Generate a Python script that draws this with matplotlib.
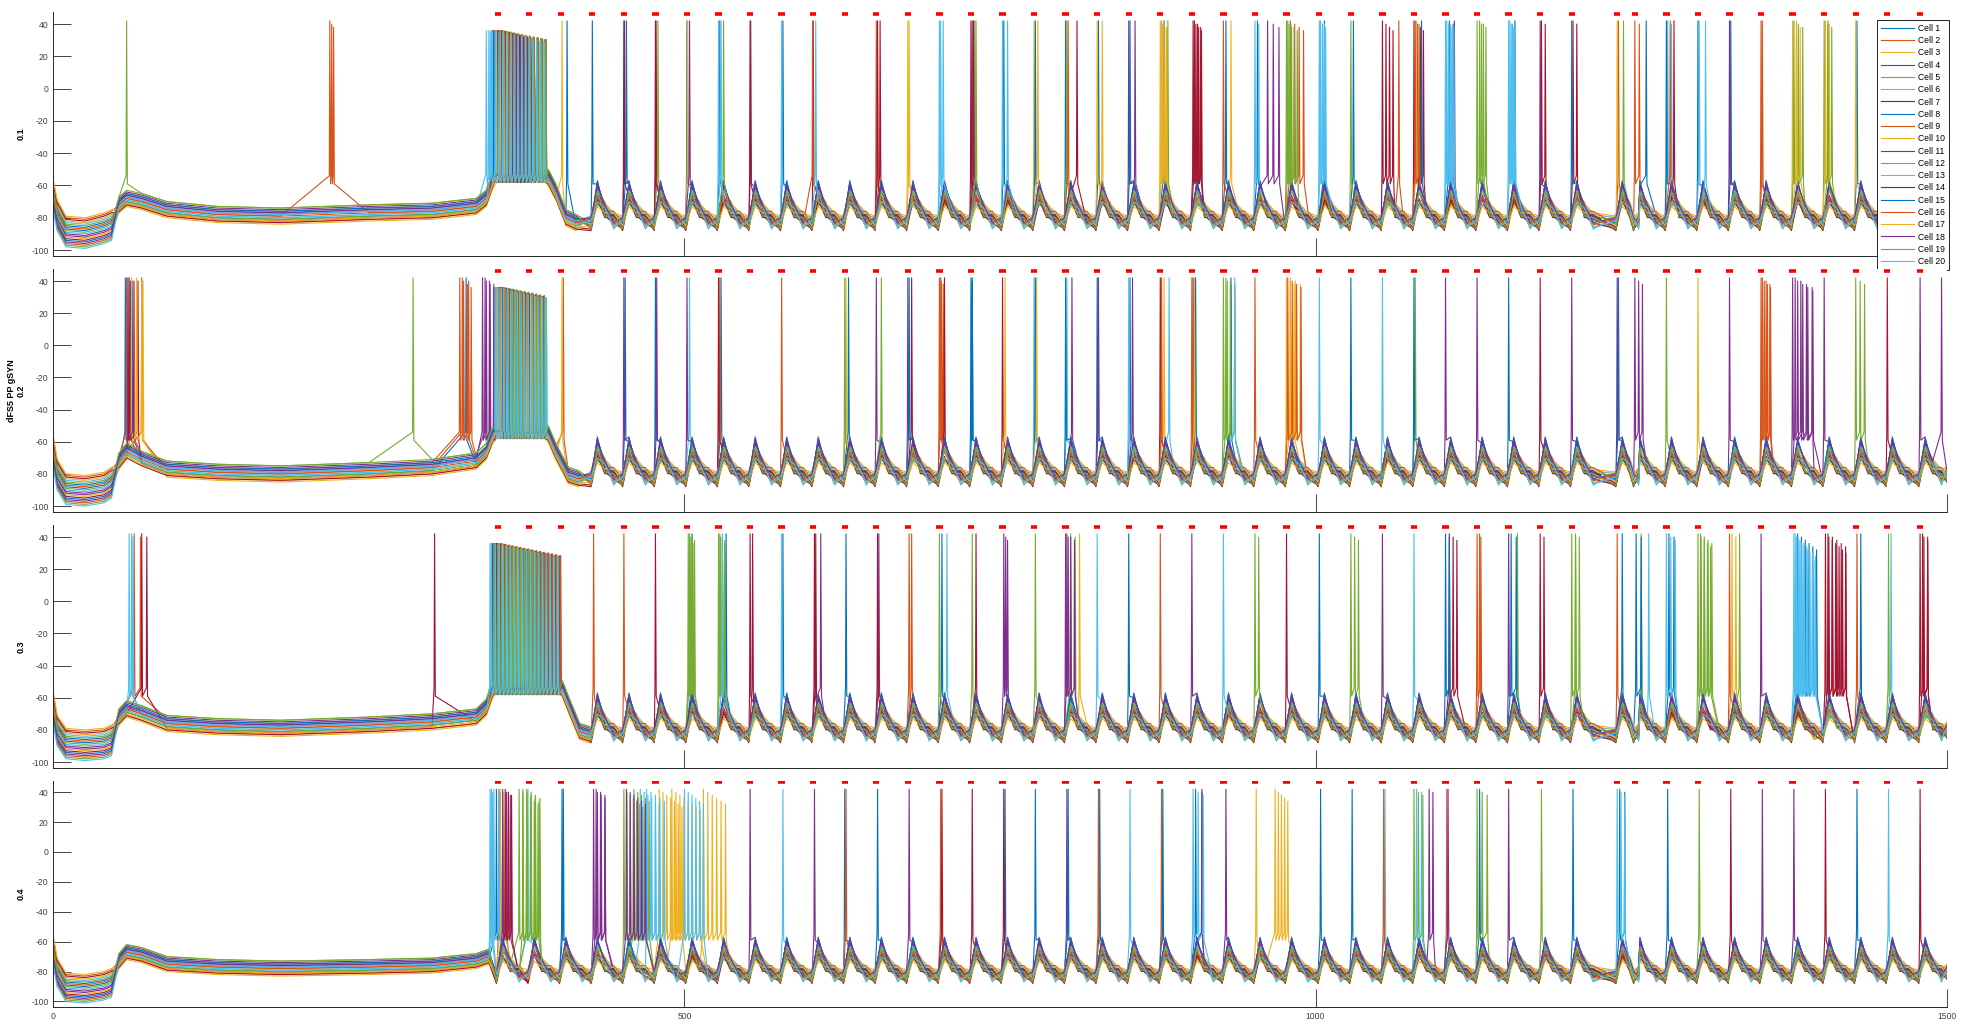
import numpy as np
import matplotlib.pyplot as plt

plt.rcParams.update({
    "font.family": ["Liberation Sans", "DejaVu Sans"], "font.size": 6,
    "axes.unicode_minus": False, "axes.linewidth": 0.7,
})
MATLAB = ["#0072BD", "#D95319", "#EDB120", "#7E2F8E", "#77AC30", "#4DBEEE", "#A2142F"]
CELLS = [f"Cell {i}" for i in range(1, 21)]
YLABELS = ["0.1", "dFS5 PP gSYN\n0.2", "0.3", "0.4"]
YTICKS = [-100, -80, -60, -40, -20, 0, 20, 40]
XTICKS = [0, 500, 1000, 1500]

# input pulse times (ms), red marks at the top of every panel
PULSES = [352, 377, 402, 427, 452, 477, 502, 527, 552, 577, 602, 627, 652, 677, 702,
          727, 752, 777, 802, 827, 852, 877, 902, 927, 952, 977, 1003, 1028, 1053, 1078,
          1103, 1128, 1153, 1178, 1203, 1239, 1253, 1278, 1303, 1328, 1353, 1378, 1403,
          1428, 1453, 1479]

# per-cell offsets (mV): first 50 ms, quiet period, rhythmic period
OFF_EARLY = [3, -8, 6, -2, -9, 5, -5, 1, 8, -4, -7, 4, -1, 7, -6, 2, 9, -3, 0, -10]
OFF_MID = [-2, 3, -4, 1, 5, -1, -3, 2, 0, -5, 4, -2, 1, -4, 3, 0, -3, 2, 5, -1]
OFF_LATE = [1, -3, 4, -2, 0, 3, -4, 2, -1, 5, -3, 1, 4, -5, 0, 2, -2, 3, -4, 1]
# peak of the per-cycle synaptic bump and late-cycle level (mV)
BUMP = [-60, -68, -64, -57, -71, -62, -66, -59, -70, -65, -61, -72, -63, -69, -58,
        -67, -73, -60, -64, -70]
LATE = [-79, -84, -77, -81, -86, -78, -83, -80, -76, -85, -79, -82, -87, -78, -81,
        -84, -77, -83, -80, -86]

# mean membrane potential before the rhythmic drive: (t, mV)
ENV_1 = [(0, -66), (3, -78), (10, -88), (25, -89), (40, -86), (46, -84), (52, -72), (58, -68),
         (70, -70), (90, -75), (130, -78), (180, -79), (250, -77), (300, -76), (335, -73),
         (343, -68), (348, -57), (392, -55), (398, -64), (406, -80), (414, -83)]
ENV_2 = [(0, -66), (3, -80), (10, -89), (25, -90), (40, -88), (46, -85), (52, -72), (58, -66),
         (70, -71), (90, -77), (130, -79), (180, -80), (250, -78), (300, -76), (335, -72),
         (343, -66), (348, -56), (392, -55), (398, -66), (408, -81), (416, -83)]
ENV_3 = [(0, -66), (3, -80), (10, -88), (25, -89), (40, -88), (46, -86), (52, -72), (58, -67),
         (70, -70), (90, -76), (130, -78), (180, -79), (250, -77), (300, -75), (335, -72),
         (343, -66), (348, -55), (403, -54), (409, -66), (417, -81), (425, -83)]
ENV_4 = [(0, -66), (3, -80), (10, -90), (25, -91), (40, -89), (46, -87), (52, -73), (58, -67),
         (70, -69), (90, -75), (130, -77), (180, -78), (250, -77), (300, -76), (335, -73),
         (345, -70)]
CYCLE_START = [415, 415, 425, 348]

# depolarisation-block plateau spiking: (cell, first spike, n spikes, isi)
PLATEAU_1 = [(1, 351, 14, 3.0), (2, 353, 13, 3.1), (3, 350, 14, 3.1), (4, 352, 14, 2.9),
             (5, 354, 13, 3.0), (6, 343, 16, 3.1), (7, 349, 14, 3.1), (8, 355, 12, 3.2),
             (9, 350, 15, 2.8), (10, 356, 12, 3.0), (11, 348, 15, 2.9), (12, 357, 12, 2.9),
             (13, 345, 16, 2.9), (14, 352, 14, 2.9), (15, 349, 14, 3.1), (16, 354, 12, 3.3),
             (17, 351, 14, 2.9), (18, 353, 14, 2.8), (19, 356, 12, 3.1), (20, 347, 15, 3.0)]
PLATEAU_2 = [(1, 352, 14, 2.9), (2, 354, 12, 3.1), (3, 351, 14, 3.0), (4, 353, 12, 3.2),
             (5, 355, 12, 3.1), (6, 350, 15, 2.9), (7, 351, 14, 3.0), (8, 356, 12, 3.0),
             (9, 350, 13, 3.2), (10, 357, 11, 3.2), (11, 353, 14, 2.8), (12, 358, 11, 3.1),
             (13, 350, 15, 2.9), (14, 352, 13, 3.1), (15, 354, 12, 3.2), (16, 355, 12, 3.0),
             (17, 352, 14, 2.9), (18, 356, 12, 2.9), (19, 357, 11, 3.2), (20, 351, 15, 2.8)]
PLATEAU_3 = [(1, 351, 17, 3.1), (2, 353, 16, 3.2), (3, 350, 17, 3.2), (4, 352, 17, 3.0),
             (5, 349, 18, 3.0), (6, 347, 18, 3.1), (7, 350, 17, 3.2), (8, 355, 16, 3.1),
             (9, 351, 17, 3.0), (10, 356, 16, 3.0), (11, 348, 18, 3.0), (12, 350, 18, 3.0),
             (13, 346, 19, 3.0), (14, 352, 17, 3.0), (15, 349, 17, 3.2), (16, 354, 16, 3.2),
             (17, 353, 17, 2.9), (18, 351, 17, 3.1), (19, 349, 18, 3.0), (20, 347, 18, 3.1)]
PLATEAU_4 = []

# spikes outside the plateau: (cell, first spike, n spikes, isi)
SPIKES_1 = [(5, 58, 1, 0), (9, 219, 3, 1.5),
            (10, 403, 1, 0), (1, 407, 1, 0), (8, 427, 1, 0), (7, 452, 1, 0), (4, 452.5, 1, 0),
            (15, 454, 1, 0), (14, 477, 1, 0), (7, 477.5, 1, 0), (12, 479, 1, 0), (1, 502, 1, 0),
            (3, 502.5, 1, 0), (18, 504, 1, 0), (13, 527, 1, 0), (8, 528, 1, 0), (20, 529, 1, 0),
            (19, 531, 1, 0), (14, 552, 1, 0), (11, 552.5, 1, 0), (6, 577, 1, 0), (1, 578, 1, 0),
            (16, 601.5, 1, 0), (7, 602, 1, 0), (20, 604, 1, 0), (2, 652, 1, 0), (14, 653, 1, 0),
            (7, 655, 1, 0), (10, 677, 1, 0), (17, 678, 1, 0), (6, 702, 1, 0), (13, 703, 1, 0),
            (20, 705, 1, 0), (14, 727, 1, 0), (11, 728, 1, 0), (7, 729, 1, 0), (5, 730, 1, 0),
            (19, 731, 1, 0), (13, 752, 1, 0), (1, 753, 1, 0), (20, 756, 1, 0), (3, 777, 1, 0),
            (15, 778, 1, 0), (17, 780, 1, 0), (8, 802, 1, 0), (12, 803, 1, 0), (16, 804, 1, 0),
            (7, 811, 1, 0), (10, 827, 1, 0), (1, 828, 1, 0), (17, 831, 1, 0), (4, 852, 1, 0),
            (15, 853, 1, 0), (18, 857, 1, 0), (3, 877, 4, 1.8), (17, 878, 3, 2.0), (8, 880, 1, 0),
            (5, 883, 1, 0), (14, 903, 4, 2.2), (7, 904, 3, 2.5), (2, 927, 1, 0), (15, 929, 1, 0),
            (10, 933, 1, 0), (6, 952, 2, 3.0), (1, 954, 1, 0), (11, 962, 3, 4.5), (12, 977, 3, 2.0),
            (19, 978, 4, 2.5), (9, 980, 4, 3.5), (20, 1003, 3, 2.5), (13, 1004, 2, 3.0),
            (1, 1007, 1, 0), (12, 1028, 1, 0), (8, 1030, 1, 0), (14, 1053, 4, 2.8), (2, 1066, 1, 0),
            (7, 1078, 4, 2.5), (16, 1079, 2, 3.0), (10, 1080, 1, 0), (15, 1084, 1, 0),
            (20, 1103, 3, 2.5), (6, 1104, 3, 2.8), (1, 1106, 2, 3.0), (4, 1110, 1, 0),
            (5, 1128, 3, 3.5), (19, 1130, 2, 3.0), (13, 1153, 3, 2.0), (20, 1154, 3, 2.0),
            (8, 1158, 1, 0), (11, 1178, 1, 0), (7, 1179, 2, 3.0), (15, 1203, 1, 0), (14, 1204, 2, 3.0),
            (17, 1239, 1, 0), (2, 1240, 1, 0), (12, 1244, 1, 0), (9, 1253, 2, 3.5), (1, 1262, 1, 0),
            (8, 1278, 1, 0), (6, 1279, 2, 3.0), (16, 1281, 1, 0), (14, 1284, 1, 0), (1, 1303, 1, 0),
            (13, 1304, 1, 0), (20, 1309, 1, 0), (18, 1328, 1, 0), (15, 1329, 1, 0), (16, 1353, 1, 0),
            (9, 1354, 1, 0), (3, 1378, 3, 3.0), (12, 1379, 3, 3.5), (17, 1381, 1, 0),
            (5, 1403, 3, 3.0), (10, 1404, 2, 3.0), (19, 1406, 1, 0), (10, 1428, 1, 0),
            (8, 1429, 1, 0), (15, 1453, 1, 0), (13, 1479, 1, 0)]
SPIKES_2 = [(1, 57, 2, 4.0), (2, 58, 2, 6.0), (4, 59, 2, 4.0), (7, 60, 2, 7.0), (3, 62, 2, 9.0),
            (10, 66, 2, 4.0), (9, 70, 1, 0), (5, 285, 1, 0),
            (2, 322, 4, 3.0), (9, 324, 2, 5.0), (1, 327, 1, 0), (4, 340, 4, 3.0), (11, 342, 3, 3.5),
            (3, 403, 1, 0), (2, 404, 1, 0), (4, 452, 1, 0), (1, 453, 1, 0), (8, 477, 1, 0),
            (11, 478, 1, 0), (18, 502, 1, 0), (13, 504, 1, 0), (7, 527, 1, 0), (2, 528, 1, 0),
            (1, 529, 1, 0), (9, 577, 1, 0), (5, 627, 1, 0), (3, 628, 1, 0), (1, 630, 1, 0),
            (11, 652, 1, 0), (12, 656, 1, 0), (4, 677, 1, 0), (15, 678, 1, 0), (14, 680, 1, 0),
            (2, 702, 3, 1.5), (16, 703, 1, 0), (7, 706, 1, 0), (1, 727, 2, 1.0), (8, 728, 1, 0),
            (14, 752, 1, 0), (17, 754, 1, 0), (6, 777, 1, 0), (8, 778, 1, 0), (10, 779, 1, 0),
            (15, 802, 1, 0), (13, 803, 1, 0), (18, 807, 1, 0), (1, 827, 1, 0), (4, 828, 1, 0),
            (20, 852, 1, 0), (8, 853, 1, 0), (11, 855, 1, 0), (7, 877, 1, 0), (9, 878, 1, 0),
            (3, 880, 1, 0), (6, 884, 1, 0), (16, 902, 1, 0), (14, 903, 1, 0), (17, 904, 1, 0),
            (15, 905, 1, 0), (5, 927, 4, 3.0), (12, 929, 3, 3.5), (8, 933, 1, 0), (13, 936, 1, 0),
            (9, 952, 1, 0), (3, 977, 3, 3.0), (16, 978, 4, 3.5),
            (10, 980, 3, 4.0), (6, 1003, 1, 0), (8, 1028, 1, 0), (20, 1053, 1, 0), (15, 1078, 1, 0),
            (12, 1079, 1, 0), (4, 1103, 1, 0), (11, 1128, 1, 0), (1, 1153, 1, 0), (14, 1178, 1, 0),
            (18, 1203, 1, 0), (4, 1239, 1, 0), (8, 1240, 1, 0), (11, 1253, 3, 3.0), (5, 1278, 1, 0),
            (17, 1303, 1, 0), (18, 1328, 1, 0), (9, 1353, 4, 2.5), (2, 1354, 3, 3.0),
            (4, 1378, 5, 4.0), (11, 1380, 4, 4.5), (18, 1403, 1, 0), (12, 1428, 3, 3.5),
            (14, 1453, 1, 0), (4, 1479, 1, 0), (18, 1496, 1, 0)]
SPIKES_3 = [(6, 60, 2, 3.0), (2, 64, 2, 5.0), (7, 70, 2, 4.0), (13, 62, 1, 0), (7, 302, 1, 0),
            (9, 428, 1, 0), (2, 452, 1, 0), (14, 477, 1, 0), (5, 503, 4, 1.5), (12, 504, 3, 2.0),
            (1, 506, 1, 0), (19, 527, 4, 1.6), (5, 528, 3, 2.0), (20, 530, 1, 0), (8, 533, 1, 0),
            (7, 552, 1, 0), (14, 554, 1, 0), (6, 577, 1, 0), (1, 578, 1, 0), (14, 603, 1, 0),
            (7, 604, 1, 0), (4, 608, 1, 0), (8, 628, 1, 0), (14, 653, 1, 0), (11, 654, 1, 0),
            (2, 678, 1, 0), (9, 680, 1, 0), (12, 702, 1, 0), (1, 704, 1, 0), (13, 708, 1, 0),
            (5, 728, 1, 0), (7, 731, 1, 0), (4, 753, 3, 1.5), (19, 778, 1, 0), (11, 802, 2, 2.0),
            (18, 803, 3, 3.0), (12, 806, 2, 3.5), (17, 813, 1, 0), (6, 827, 1, 0), (1, 852, 1, 0),
            (9, 877, 1, 0), (4, 902, 1, 0), (20, 927, 1, 0), (19, 952, 2, 3.0), (14, 977, 1, 0),
            (8, 1003, 1, 0), (12, 1028, 3, 3.0), (11, 1053, 1, 0), (6, 1078, 1, 0), (15, 1103, 2, 3.0),
            (7, 1106, 3, 3.0), (2, 1128, 2, 3.0), (16, 1130, 1, 0), (4, 1153, 1, 0), (8, 1155, 2, 4.0),
            (5, 1160, 1, 0), (14, 1178, 2, 3.0), (12, 1203, 2, 3.0), (19, 1206, 2, 3.0),
            (9, 1239, 1, 0), (1, 1243, 1, 0), (8, 1254, 2, 4.0), (5, 1258, 1, 0), (13, 1264, 1, 0),
            (20, 1278, 3, 3.5), (15, 1280, 2, 4.0), (12, 1303, 5, 2.5), (19, 1305, 4, 3.0),
            (16, 1328, 1, 0), (10, 1330, 2, 3.0), (5, 1336, 1, 0), (4, 1353, 1, 0),
            (13, 1379, 9, 2.1), (20, 1380, 8, 2.3), (8, 1382, 6, 3.0), (14, 1404, 7, 2.7),
            (7, 1406, 5, 3.5), (9, 1429, 1, 0), (1, 1432, 1, 0), (12, 1454, 1, 0), (6, 1456, 1, 0),
            (14, 1479, 3, 3.0), (7, 1481, 2, 4.0)]
SPIKES_4 = [(6, 346, 2, 2.0), (20, 347, 1, 0), (1, 351, 2, 3.0), (2, 353, 3, 3.0), (3, 354, 2, 4.0),
            (4, 356, 3, 3.0), (7, 358, 3, 2.5), (13, 349, 2, 4.0), (5, 369, 6, 3.0), (12, 372, 5, 3.2),
            (19, 375, 4, 3.5), (6, 376, 1, 0), (15, 403, 1, 0), (8, 404, 1, 0), (4, 428, 4, 3.0),
            (11, 430, 3, 3.5), (5, 452, 8, 2.5), (18, 454, 6, 3.0), (12, 460, 5, 3.0), (6, 465, 6, 3.0),
            (13, 470, 5, 3.5), (3, 480, 7, 3.0), (10, 490, 8, 3.2), (20, 500, 6, 3.0), (17, 515, 6, 3.5),
            (4, 552, 1, 0), (6, 578, 1, 0), (11, 603, 1, 0), (1, 627, 1, 0), (2, 628, 1, 0),
            (8, 653, 1, 0), (18, 678, 1, 0), (9, 703, 1, 0), (14, 704, 1, 0), (7, 728, 1, 0),
            (14, 753, 1, 0), (1, 754, 1, 0), (15, 778, 1, 0), (4, 803, 1, 0), (8, 804, 1, 0),
            (16, 828, 1, 0), (1, 829, 1, 0), (13, 853, 1, 0), (2, 878, 1, 0), (15, 879, 1, 0),
            (20, 903, 3, 4.0), (1, 905, 2, 5.0), (11, 910, 1, 0), (4, 929, 1, 0), (17, 953, 1, 0),
            (3, 968, 5, 2.5), (8, 1004, 1, 0), (15, 1029, 1, 0), (9, 1054, 1, 0), (6, 1055, 1, 0),
            (12, 1078, 3, 3.5), (13, 1080, 2, 4.0), (11, 1090, 2, 3.0), (16, 1104, 1, 0),
            (18, 1105, 1, 0), (5, 1128, 3, 4.0), (1, 1130, 1, 0), (4, 1153, 1, 0), (19, 1179, 1, 0),
            (8, 1204, 1, 0), (20, 1239, 3, 3.0), (15, 1241, 2, 4.0), (1, 1279, 1, 0),
            (12, 1304, 1, 0), (14, 1329, 1, 0), (11, 1354, 1, 0), (18, 1379, 1, 0), (7, 1404, 1, 0),
            (8, 1429, 1, 0), (13, 1454, 1, 0), (14, 1479, 1, 0)]

ENVS = [ENV_1, ENV_2, ENV_3, ENV_4]
PLATEAUS = [PLATEAU_1, PLATEAU_2, PLATEAU_3, PLATEAU_4]
SPIKES = [SPIKES_1, SPIKES_2, SPIKES_3, SPIKES_4]


def build_trace(ci, env, plateau, spikes, t_cyc):
    base = []
    for t, v in env:
        off = OFF_EARLY[ci] if t < 50 else OFF_MID[ci]
        base.append((t, v + off))
    off = OFF_LATE[ci]
    for tk in PULSES:
        if tk >= t_cyc:
            base += [(tk - 1, -83 + off), (tk + 4, BUMP[ci]), (tk + 10, -75 + off),
                     (tk + 17, LATE[ci])]
    base.append((1500, -80 + off))
    spk, wins = [], []
    for rows, top, drop, thr in [(plateau, 36, 0.5, -53), (spikes, 42, 2.0, -54)]:
        for c, t0, n, isi in rows:
            if c - 1 != ci:
                continue
            for j in range(n):
                s = t0 + j * isi
                spk += [(s - 0.4, thr), (s, top - drop * j), (s + 0.6, thr - 5)]
            wins.append((t0 - 0.6, t0 + (n - 1) * isi + 1.0))
    base = [p for p in base if not any(a <= p[0] <= b for a, b in wins)]
    pts = sorted(base + spk)
    return np.array(pts).T


fig = plt.figure(figsize=(19.61, 10.25), dpi=100)
W, H = 1961, 1025
x0, x1 = 53.4, 1946.6
boxes = [(12, 256), (269, 512), (525, 768), (781, 1007)]
axes = []
for p, (top, bot) in enumerate(boxes):
    ax = fig.add_axes([x0 / W, 1 - bot / H, (x1 - x0) / W, (bot - top) / H])
    lines = []
    for ci in range(20):
        t, v = build_trace(ci, ENVS[p], PLATEAUS[p], SPIKES[p], CYCLE_START[p])
        ln, = ax.plot(t, v, color=MATLAB[ci % 7], lw=0.8)
        lines.append(ln)
    pulses = np.array(PULSES, dtype=float)
    ax.hlines(np.full(len(pulses), 46.5), pulses - 2.5, pulses + 2.5, color="red", lw=2.6, zorder=5)
    ax.set_xlim(0, 1500)
    ax.set_ylim(-103.7, 47.5)
    ax.set_yticks(YTICKS)
    ax.set_xticks(XTICKS)
    if p < 3:
        ax.set_xticklabels([])
    for s in ["top", "right"]:
        ax.spines[s].set_visible(False)
    for s in ["left", "bottom"]:
        ax.spines[s].set_color("#262626")
    ax.tick_params(direction="in", length=13, width=0.6, color="#262626",
                   labelcolor="#404040", labelsize=6.2, pad=3.5)
    ax.set_ylabel(YLABELS[p], fontweight="bold", fontsize=6.5, linespacing=1.1)
    ax.yaxis.set_label_coords(-0.0145, 0.5)
    axes.append((ax, lines))

ax, lines = axes[0]
leg = ax.legend(lines, CELLS, loc="upper right", bbox_to_anchor=(1949.3 / W, 1 - 20 / H),
                bbox_transform=fig.transFigure, borderaxespad=0, fontsize=6.2,
                handlelength=3.8, handletextpad=0.5, labelspacing=0.38, borderpad=0.45,
                fancybox=False, framealpha=1, edgecolor="black")
leg.get_frame().set_linewidth(0.6)
leg.set_zorder(10)

fig.savefig("out.png", dpi=100)
